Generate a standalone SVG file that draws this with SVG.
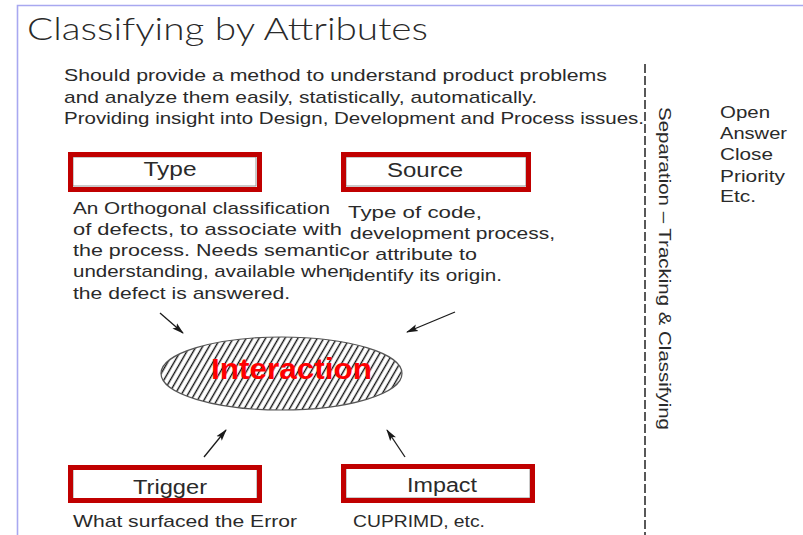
<svg xmlns="http://www.w3.org/2000/svg" width="803" height="535" viewBox="0 0 803 535">
  <style>
    .t { font-family: "Liberation Sans", Arial, sans-serif; fill: #2a2a2a; }
    .body { font-size: 17px; }
    .lbl { font-size: 20px; text-anchor: middle; }
    .red { fill: none; stroke: #c00000; stroke-width: 5; }
    .inner { fill: #fff; stroke: #8a8a8a; stroke-width: 0.9; }
    .conn { stroke: #1a1a1a; stroke-width: 1.3; fill: none; marker-end: url(#head); }
  </style>
  <defs>
    <marker id="head" viewBox="0 0 12 8" refX="11" refY="4" markerWidth="12" markerHeight="8" markerUnits="userSpaceOnUse" orient="auto">
      <path d="M0,0.5 L12,4 L0,7.5 L2.5,4 Z" fill="#1a1a1a"/>
    </marker>
    <pattern id="hatch" width="5.6" height="10" patternUnits="userSpaceOnUse" patternTransform="rotate(30)">
      <rect width="5.6" height="10" fill="#fff"/>
      <line x1="1.5" y1="0" x2="1.5" y2="10" stroke="#111" stroke-width="1.4"/>
    </pattern>
  </defs>

  <rect width="803" height="535" fill="#fff"/>
  <!-- page frame -->
  <path d="M17.5,535 V5.5 H803" fill="none" stroke="#a8a8f0" stroke-width="1.6"/>

  <text id="title" x="27" y="40" font-family="Lato, 'Liberation Sans', sans-serif" font-weight="300" font-size="31" fill="#2a2a2a" textLength="401" lengthAdjust="spacingAndGlyphs">Classifying by Attributes</text>

  <g id="intro" class="t body">
    <text x="64" y="81" textLength="543" lengthAdjust="spacingAndGlyphs">Should provide a method to understand product problems</text>
    <text x="64" y="103" textLength="473" lengthAdjust="spacingAndGlyphs">and analyze them easily, statistically, automatically.</text>
    <text x="64" y="124" textLength="580" lengthAdjust="spacingAndGlyphs">Providing insight into Design, Development and Process issues.</text>
  </g>

  <!-- separator -->
  <line x1="645" y1="64" x2="645" y2="535" stroke="#222" stroke-width="1.5" stroke-dasharray="9 3"/>
  <text id="separation" class="t body" transform="translate(659,107) rotate(90)" textLength="323" lengthAdjust="spacingAndGlyphs">Separation – Tracking &amp; Classifying</text>

  <g id="states" class="t body">
    <text x="720" y="118" textLength="50" lengthAdjust="spacingAndGlyphs">Open</text>
    <text x="720" y="139" textLength="67" lengthAdjust="spacingAndGlyphs">Answer</text>
    <text x="720" y="160" textLength="53" lengthAdjust="spacingAndGlyphs">Close</text>
    <text x="720" y="182" textLength="65" lengthAdjust="spacingAndGlyphs">Priority</text>
    <text x="720" y="202" textLength="36" lengthAdjust="spacingAndGlyphs">Etc.</text>
  </g>

  <g id="type">
    <rect class="inner" x="73" y="157" width="183" height="29"/>
    <rect class="red" x="70.5" y="154.5" width="189" height="35"/>
    <text class="t lbl" x="170" y="176" textLength="53" lengthAdjust="spacingAndGlyphs">Type</text>
    <g class="t body">
      <text x="73" y="214" textLength="257" lengthAdjust="spacingAndGlyphs">An Orthogonal classification</text>
      <text x="73" y="235" textLength="269" lengthAdjust="spacingAndGlyphs">of defects, to associate with</text>
      <text x="73" y="256" textLength="277" lengthAdjust="spacingAndGlyphs">the process.  Needs semantic</text>
      <text x="73" y="277" textLength="277" lengthAdjust="spacingAndGlyphs">understanding, available when</text>
      <text x="73" y="299" textLength="217" lengthAdjust="spacingAndGlyphs">the defect is answered.</text>
    </g>
  </g>

  <g id="source">
    <rect class="inner" x="346" y="157" width="180" height="29"/>
    <rect class="red" x="343.5" y="154.5" width="185" height="35"/>
    <text class="t lbl" x="425" y="177" textLength="76" lengthAdjust="spacingAndGlyphs">Source</text>
    <g class="t body">
      <text x="348" y="218" textLength="134" lengthAdjust="spacingAndGlyphs">Type of code,</text>
      <text x="350" y="239" textLength="205" lengthAdjust="spacingAndGlyphs">development process,</text>
      <text x="350" y="260" textLength="127" lengthAdjust="spacingAndGlyphs">or attribute to</text>
      <text x="348" y="281" textLength="154" lengthAdjust="spacingAndGlyphs">identify its origin.</text>
    </g>
  </g>

  <g id="interaction">
    <ellipse cx="281.5" cy="373.5" rx="120.5" ry="36.5" fill="url(#hatch)" stroke="#555" stroke-width="1.2"/>
    <text x="211" y="379" font-family="Liberation Sans, Arial, sans-serif" font-weight="bold" font-size="30" fill="#ff0000" textLength="161" lengthAdjust="spacingAndGlyphs">Interaction</text>
  </g>

  <g id="trigger">
    <rect class="inner" x="73" y="468" width="184" height="31"/>
    <rect class="red" x="70.5" y="467.5" width="189" height="33"/>
    <text class="t lbl" x="170" y="494" textLength="74" lengthAdjust="spacingAndGlyphs">Trigger</text>
    <text class="t body" x="73" y="527" textLength="224" lengthAdjust="spacingAndGlyphs">What surfaced the Error</text>
  </g>

  <g id="impact">
    <rect class="inner" x="346" y="468" width="184" height="30"/>
    <rect class="red" x="343.5" y="466.5" width="189" height="34"/>
    <text class="t lbl" x="442" y="492" textLength="70" lengthAdjust="spacingAndGlyphs">Impact</text>
    <text class="t body" x="353" y="527" textLength="132" lengthAdjust="spacingAndGlyphs">CUPRIMD, etc.</text>
  </g>

  <g id="connectors">
    <line class="conn" x1="160" y1="313" x2="183" y2="333"/>
    <line class="conn" x1="455" y1="312" x2="407" y2="332"/>
    <line class="conn" x1="204" y1="457" x2="226" y2="430"/>
    <line class="conn" x1="405" y1="457" x2="387" y2="430"/>
  </g>
</svg>
